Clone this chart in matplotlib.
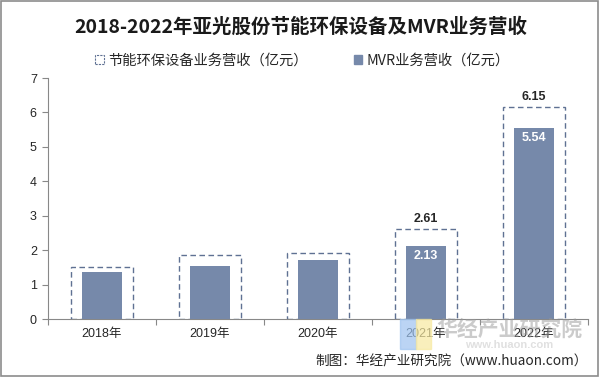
import matplotlib
matplotlib.use("Agg")
import matplotlib.pyplot as plt
from matplotlib.patches import Rectangle

categories = ["2018年", "2019年", "2020年", "2021年", "2022年"]
total_equipment = [1.50, 1.85, 1.91, 2.61, 6.15]
mvr_revenue = [1.37, 1.54, 1.72, 2.13, 5.54]
label_total = [None, None, None, "2.61", "6.15"]
label_mvr = [None, None, None, "2.13", "5.54"]
yticks = [0, 1, 2, 3, 4, 5, 6, 7]

FAM = ["Liberation Sans", "Noto Sans CJK SC"]
CJK = ["Noto Sans CJK SC", "DejaVu Sans"]
bar_color = "#7689AA"
edge_color = "#5F7193"

fig = plt.figure(figsize=(5.99, 3.77), dpi=100)
ax = fig.add_axes([0.0801, 0.1538, 0.9015, 0.6393])

x = list(range(len(categories)))
ax.bar(x, total_equipment, width=0.58, fill=False, edgecolor=edge_color,
       linestyle=(0, (4, 2.5)), linewidth=1.0, zorder=2)
ax.bar(x, mvr_revenue, width=0.37, color=bar_color, zorder=3)

for i in x:
    if label_total[i]:
        ax.text(i, total_equipment[i] + 0.12, label_total[i], ha="center", va="bottom",
                fontsize=9, fontweight="bold", color="#262626", family=FAM)
    if label_mvr[i]:
        ax.text(i, mvr_revenue[i] - 0.12, label_mvr[i], ha="center", va="top",
                fontsize=9, fontweight="bold", color="white", family=FAM, zorder=4)

ax.set_xlim(-0.5, len(categories) - 0.5)
ax.set_ylim(0, 7)
ax.set_yticks(yticks)
ax.set_yticklabels([str(v) for v in yticks], family=FAM, fontsize=9, color="#262626")
ax.set_xticks([i + 0.5 for i in range(-1, len(categories))])
ax.set_xticklabels([""] * (len(categories) + 1))
ax.tick_params(axis="x", length=4, color="#888888")
ax.tick_params(axis="y", length=4, color="#888888", pad=4)
for i, c in enumerate(categories):
    ax.text(i, -0.26, c, ha="center", va="top", fontsize=9, color="#262626", family=FAM)

for s in ["top", "right"]:
    ax.spines[s].set_visible(False)
ax.spines["left"].set_color("#888888")
ax.spines["bottom"].set_color("#888888")

fig.text(0.502, 0.927, "2018-2022年亚光股份节能环保设备及MVR业务营收", ha="center", va="center",
         fontsize=14, fontweight="bold", family=CJK, color="#1a1a1a")

handles = [Rectangle((0, 0), 1, 1, fill=False, edgecolor=edge_color, linestyle=(0, (2, 1)), linewidth=0.8),
           Rectangle((0, 0), 1, 1, color=bar_color)]
fig.legend(handles, ["节能环保设备业务营收（亿元）", "MVR业务营收（亿元）"], loc="center",
           bbox_to_anchor=(0.505, 0.84), ncol=2, frameon=False, prop={"family": CJK, "size": 10.3},
           handlelength=0.6, handleheight=0.6, handletextpad=0.3, columnspacing=3.2, labelcolor="#262626")

# watermark
fig.patches.append(Rectangle((0.668, 0.075), 0.026, 0.08, transform=fig.transFigure,
                             color="#9EC3F0", alpha=0.7, zorder=0))
fig.patches.append(Rectangle((0.694, 0.075), 0.026, 0.08, transform=fig.transFigure,
                             color="#F7E9A0", alpha=0.7, zorder=0))
fig.text(0.85, 0.128, "华经产业研究院", ha="center", va="center", fontsize=15, fontweight="bold",
         family=CJK, color="#999999", alpha=0.5)
fig.text(0.85, 0.085, "www.huaon.com", ha="center", va="center", fontsize=8, fontweight="bold",
         family=FAM, color="#bbbbbb", alpha=0.45)

fig.text(0.982, 0.040, "制图：华经产业研究院（www.huaon.com）", ha="right", va="center",
         fontsize=9.8, family=CJK, color="#262626")

fig.patches.append(Rectangle((0.002, 0.003), 0.996, 0.994, transform=fig.transFigure,
                             fill=False, edgecolor="#8c8c8c", linewidth=1.2))

fig.savefig("out.png", dpi=100)
